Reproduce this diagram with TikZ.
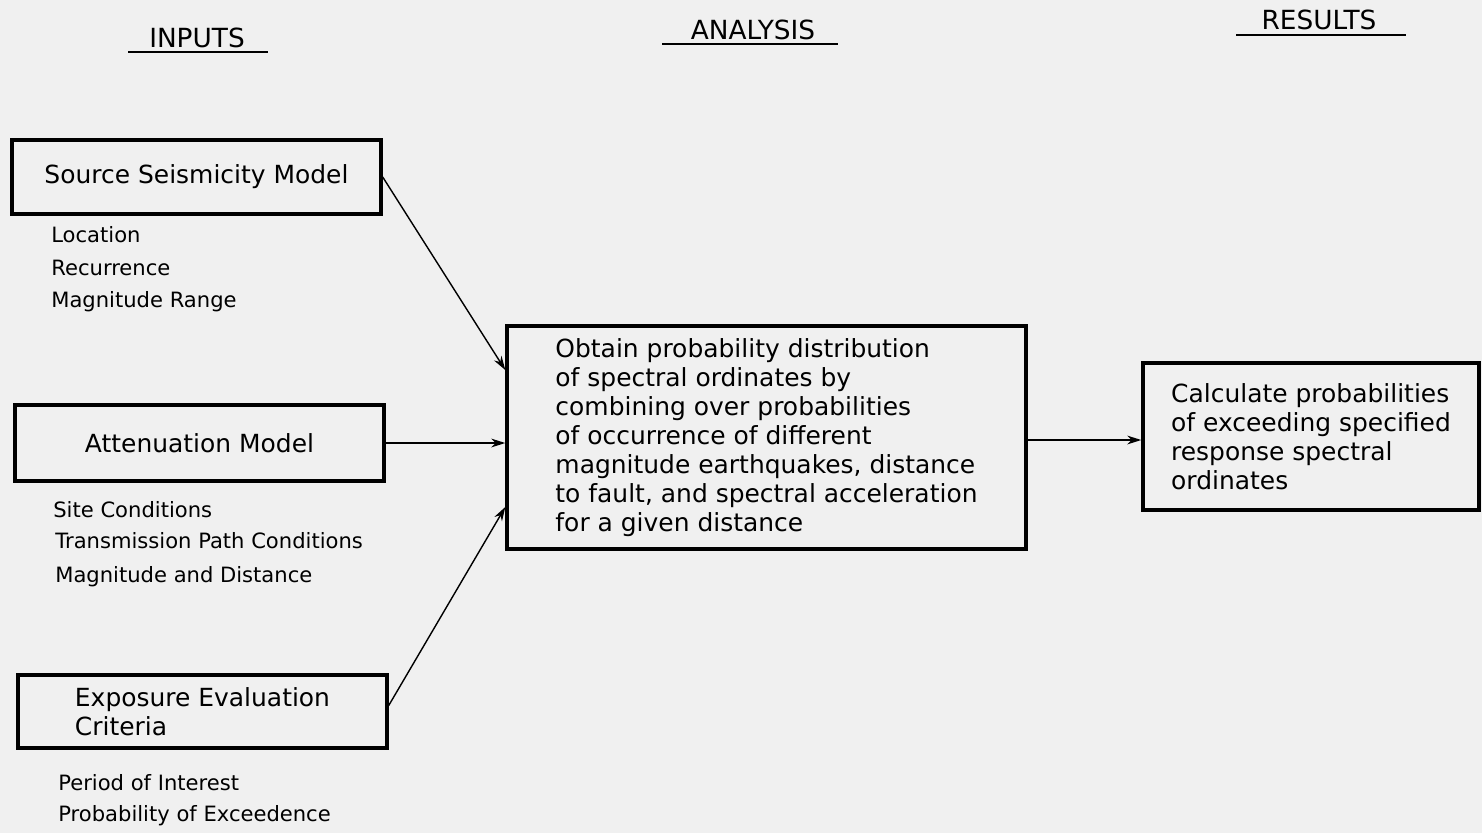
\documentclass[tikz,border=0pt]{standalone}
\usepackage{fontspec}
\setmainfont{DejaVu Sans}
\usetikzlibrary{arrows.meta,calc}
\tikzset{
  box/.style={draw=black, line width=2pt, inner sep=0pt, align=left,
    font=\fontsize{14.2}{16.5}\selectfont},
  sub/.style={anchor=base west, inner sep=0pt, font=\fontsize{12}{14}\selectfont},
  head/.style={inner sep=0pt, font=\fontsize{15}{17}\selectfont},
  uline/.style={line width=0.9pt},
  conn/.style={line width=0.8pt, -{Stealth[length=8pt,width=5pt]}}
}
\begin{document}
\begin{tikzpicture}[x=0.02cm,y=-0.02cm]
\useasboundingbox[fill=white!94!black] (0,0) rectangle (1482,833);
% headers
\node[head] (hin) at (197,38) {INPUTS};
\draw[uline] (128,52) -- (268,52);
\node[head] (han) at (753,30) {ANALYSIS};
\draw[uline] (662,44) -- (838,44);
\node[head] (hre) at (1319,20) {RESULTS};
\draw[uline] (1236,35) -- (1406,35);
% boxes
\node[box, minimum width=7.38cm, minimum height=1.48cm] (src) at (196.5,177) {Source Seismicity Model};
\node[box, minimum width=7.38cm, minimum height=1.52cm] (att) at (199.5,443) {Attenuation Model};
\node[box, minimum width=7.38cm, minimum height=1.46cm] (exp) at (202.5,711.5) {Exposure Evaluation\\Criteria};
\node[box, minimum width=10.38cm, minimum height=4.46cm] (ana) at (766.5,437.5)
  {Obtain probability distribution\\of spectral ordinates by\\combining over probabilities\\of occurrence of different\\magnitude earthquakes, distance\\to fault, and spectral acceleration\\for a given distance};
\node[box, minimum width=6.72cm, minimum height=2.94cm] (res) at (1311,436.5)
  {Calculate probabilities\\of exceeding specified\\response spectral\\ordinates};
% sub labels
\node[sub] (l1) at (51,242) {Location};
\node[sub] (l2) at (51,275) {Recurrence};
\node[sub] (l3) at (51,307) {Magnitude Range};
\node[sub] (l4) at (53,517) {Site Conditions};
\node[sub] (l5) at (55,548) {Transmission Path Conditions};
\node[sub] (l6) at (55,582) {Magnitude and Distance};
\node[sub] (l7) at (58,790) {Period of Interest};
\node[sub] (l8) at (58,821) {Probability of Exceedence};
% connectors
\draw[conn] (src.east) -- ($(ana.west)+(0,-67.5)$);
\draw[conn] (att.east) -- (att.east -| ana.west);
\draw[conn] ($(exp.east)+(0,-6)$) -- ($(ana.west)+(0,69.5)$);
\draw[conn] ($(ana.east)+(0,2.5)$) coordinate (ae) -- (ae -| res.west);
\end{tikzpicture}
\end{document}
